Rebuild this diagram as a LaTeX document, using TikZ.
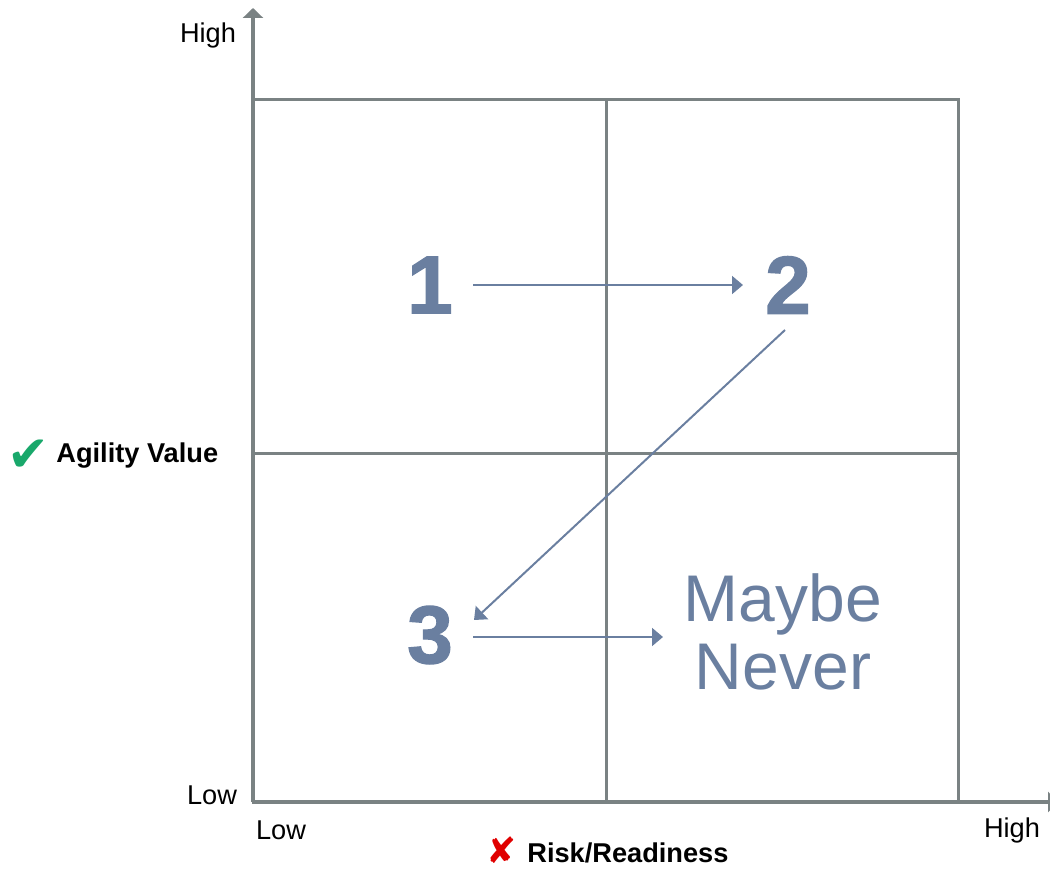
\documentclass[tikz,border=0pt]{standalone}
\usepackage{fontspec}
\setmainfont{Liberation Sans}
\newfontfamily\symfont{DejaVu Sans}
\newfontfamily\heavyfont[FakeBold=1.6]{Liberation Sans Bold}
\usetikzlibrary{arrows.meta,calc,positioning}
\definecolor{axisgray}{HTML}{7A8283}
\definecolor{stepblue}{HTML}{6A7FA0}
\definecolor{okgreen}{HTML}{19A86B}
\definecolor{nored}{HTML}{E00000}
\tikzstyle{grid} = [draw=axisgray,line width=1.5pt]
\tikzstyle{axis} = [draw=axisgray,line width=1.7pt,-{Triangle[length=5pt,width=10pt]}]
\tikzstyle{flow} = [draw=stepblue,line width=1pt,-{Triangle[length=5.5pt,width=9pt]}]
\tikzstyle{stepnum} = [text=stepblue,inner sep=0pt,font=\heavyfont\fontsize{41}{41}\selectfont]
\tikzstyle{endtext} = [text=stepblue,inner sep=0pt,align=center,font=\fontsize{33}{34}\selectfont]
\tikzstyle{ticklabel} = [inner sep=0pt,font=\fontsize{13.6}{15}\selectfont]
\tikzstyle{axisname} = [inner sep=0pt,anchor=west,font=\fontsize{13.6}{15}\selectfont\bfseries]

\begin{document}
\begin{tikzpicture}[x=0.5pt,y=0.5pt]
\useasboundingbox (0,0) rectangle (1050,869);
\clip (0,0) rectangle (1050,869);

% quadrants
\draw[grid] (253,67) rectangle (958,769);
\draw[grid] (606,67) -- (606,769);
\draw[grid] (253,416) -- (958,416);

% axes
\coordinate (origin) at (253,67);
\coordinate (ytop) at (253,861);
\coordinate (xend) at (1058,67);
\draw[axis] (origin) -- (ytop);
\draw[axis] (origin) -- (xend);

\node (yhigh) [ticklabel] at (208,834) {High};
\node (ylow) [ticklabel] at (212,74) {Low};
\node (xlow) [ticklabel] at (281,39) {Low};
\node (xhigh) [ticklabel] at (1012,39) {High};

\node (agility) [axisname] at (56,413) {Agility Value};
\node (check) [left=3pt of agility,inner sep=0pt,text=okgreen,font=\symfont\fontsize{25}{25}\selectfont] {✔};
\node (risk) [axisname] at (527,16) {Risk/Readiness};
\node (cross) [left=5pt of risk,yshift=1.5pt,inner sep=0pt,text=nored,font=\symfont\fontsize{18}{18}\selectfont] {✘};

% steps
\node (one) [stepnum] at (430,584) {1};
\node (two) [stepnum] at (788,584) {2};
\node (three) [stepnum] at (430,234) {3};
\node (never) [endtext] at (783,237) {Maybe\\Never};

\draw[flow] ($(one.center)+(43,0)$) -- ($(two.center)+(-45,0)$);
\draw[flow] ($(two.center)+(-3,-45)$) -- ($(three.center)+(44,15)$);
\draw[flow] ($(three.center)+(43,-2)$) -- ($(never.center)+(-120,-5)$);

\end{tikzpicture}
\end{document}
